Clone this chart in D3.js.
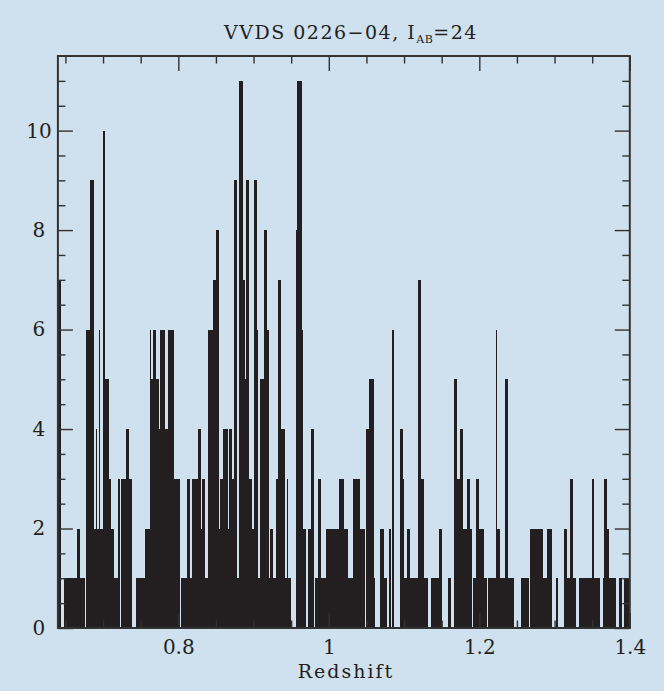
<!DOCTYPE html>
<html>
<head>
<meta charset="utf-8">
<script src="https://cdn.jsdelivr.net/npm/d3@7"></script>
<style>
  html, body { margin: 0; padding: 0; background: #cfe0ee; }
  svg { display: block; }
  text { font-family: "DejaVu Serif", "Liberation Serif", serif; fill: #231f20; }
</style>
</head>
<body>
<script>
// Redshift histogram of the VVDS 0226-04 field (I_AB = 24)
const zStart = 0.64;      // lower edge of the first bin
const binWidth = 0.002;   // bin width in redshift

// galaxies per bin, one row per 0.02 in redshift
const counts = [
  7,7,0,0,1,1,1,1,1,1,   // 0.64
  1,1,1,2,2,1,1,1,0,6,   // 0.66
  6,9,9,9,2,4,2,6,2,2,   // 0.68
  10,5,5,5,3,2,2,1,1,1,  // 0.70
  3,0,3,3,3,4,4,3,3,0,   // 0.72
  0,0,1,1,1,1,1,1,2,2,   // 0.74
  2,6,5,6,6,5,5,4,6,6,   // 0.76
  6,4,4,6,6,6,6,3,3,3,   // 0.78
  3,0,1,1,1,1,3,3,1,3,   // 0.80
  3,3,3,4,4,2,3,3,1,1,   // 0.82
  6,6,6,7,7,8,8,2,3,3,   // 0.84
  4,4,4,2,4,4,3,9,9,1,   // 0.86
  11,11,11,7,5,9,9,3,3,2,// 0.88
  9,9,6,1,5,5,5,8,8,6,   // 0.90
  1,2,2,1,1,3,7,7,4,4,   // 0.92
  4,1,3,1,1,0,0,0,8,11,  // 0.94
  11,11,6,2,2,0,2,2,4,4, // 0.96
  0,1,1,3,3,1,1,1,2,2,   // 0.98
  2,2,2,2,2,2,2,3,3,3,   // 1.00
  2,2,2,1,1,1,3,3,3,3,   // 1.02
  3,2,2,2,0,4,4,5,5,5,   // 1.04
  1,0,0,0,2,2,2,1,1,0,   // 1.06
  2,0,6,0,0,0,0,4,4,3,   // 1.08
  1,1,2,2,1,1,1,1,1,7,   // 1.10
  7,3,3,1,1,1,0,0,1,1,   // 1.12
  1,1,1,2,2,0,0,0,0,1,   // 1.14
  1,0,0,5,5,3,3,4,4,2,   // 1.16
  2,2,3,3,2,0,1,1,3,3,   // 1.18
  2,2,2,1,1,0,1,1,1,1,   // 1.20
  1,6,2,2,1,1,1,5,5,1,   // 1.22
  1,1,1,0,0,0,0,0,1,1,   // 1.24
  1,1,1,0,2,2,2,2,2,2,   // 1.26
  2,2,1,1,1,2,2,2,0,0,   // 1.28
  0,1,0,0,0,0,2,2,1,1,   // 1.30
  3,3,1,1,0,0,1,1,1,1,   // 1.32
  1,1,1,1,1,3,1,1,1,1,   // 1.34
  0,0,1,3,3,2,1,1,1,1,   // 1.36
  1,0,0,1,1,0,1,1,1,1    // 1.38
];

const xDomain = [0.64, 1.4];
const yDomain = [0, 11.5];
const xMajorTicks = [0.8, 1.0, 1.2, 1.4];
const xMinorTicks = [0.65, 0.7, 0.75, 0.85, 0.9, 0.95, 1.05, 1.1, 1.15, 1.25, 1.3, 1.35];
const yMajorTicks = [0, 2, 4, 6, 8, 10];
const yMinorTicks = [0.5, 1, 1.5, 2.5, 3, 3.5, 4.5, 5, 5.5, 6.5, 7, 7.5, 8.5, 9, 9.5, 10.5, 11];
const titleMain = "VVDS 0226\u221204, I";
const titleSub = "AB";
const titleTail = "=24";
const xTitle = "Redshift";

const W = 664, H = 691;
const plot = { left: 57.9, right: 629.8, top: 56, bottom: 628 };
const ink = "#231f20";
const frameInk = "#333233";

const svg = d3.select("body").append("svg")
  .attr("width", W).attr("height", H);

svg.append("rect").attr("width", W).attr("height", H).attr("fill", "#cfe0ee");

const x = d3.scaleLinear().domain(xDomain).range([plot.left, plot.right]);
const y = d3.scaleLinear().domain(yDomain).range([plot.bottom, plot.top]);

const bins = counts.map((c, i) => ({ z0: zStart + i * binWidth, z1: zStart + (i + 1) * binWidth, n: c }));

// histogram bars
svg.append("g")
  .attr("shape-rendering", "crispEdges")
  .selectAll("rect")
  .data(bins.filter(b => b.n > 0))
  .join("rect")
  .attr("x", d => x(d.z0))
  .attr("width", d => x(d.z1) - x(d.z0))
  .attr("y", d => y(d.n))
  .attr("height", d => y(0) - y(d.n))
  .attr("fill", ink);

// ticks on all four sides, pointing inwards
function styleAxis(g) {
  g.select(".domain").remove();
  g.selectAll(".tick line").attr("stroke", frameInk).attr("stroke-width", 1.4);
}
const major = 15, minor = 7.5;

svg.append("g").attr("transform", `translate(0,${plot.bottom})`)
  .call(d3.axisBottom(x).tickValues(xMinorTicks).tickSize(-minor).tickFormat(""))
  .call(styleAxis);
const xAxis = svg.append("g").attr("transform", `translate(0,${plot.bottom})`)
  .call(d3.axisBottom(x).tickValues(xMajorTicks).tickSize(-major).tickPadding(12)
    .tickFormat(d => d3.format("")(+d.toFixed(1))))
  .call(styleAxis);
xAxis.selectAll("text").attr("font-size", 20).attr("fill", ink)
  .attr("font-family", "DejaVu Serif, serif");

svg.append("g").attr("transform", `translate(0,${plot.top})`)
  .call(d3.axisTop(x).tickValues(xMinorTicks).tickSize(-minor).tickFormat(""))
  .call(styleAxis);
svg.append("g").attr("transform", `translate(0,${plot.top})`)
  .call(d3.axisTop(x).tickValues(xMajorTicks).tickSize(-major).tickFormat(""))
  .call(styleAxis);

svg.append("g").attr("transform", `translate(${plot.left},0)`)
  .call(d3.axisLeft(y).tickValues(yMinorTicks).tickSize(-minor).tickFormat(""))
  .call(styleAxis);
const yAxis = svg.append("g").attr("transform", `translate(${plot.left},0)`)
  .call(d3.axisLeft(y).tickValues(yMajorTicks).tickSize(-major).tickPadding(19))
  .call(styleAxis);
yAxis.selectAll("text").attr("font-size", 20).attr("fill", ink)
  .attr("text-anchor", "middle").attr("font-family", "DejaVu Serif, serif");

svg.append("g").attr("transform", `translate(${plot.right},0)`)
  .call(d3.axisRight(y).tickValues(yMinorTicks).tickSize(-minor).tickFormat(""))
  .call(styleAxis);
svg.append("g").attr("transform", `translate(${plot.right},0)`)
  .call(d3.axisRight(y).tickValues(yMajorTicks).tickSize(-major).tickFormat(""))
  .call(styleAxis);

// frame
svg.append("rect")
  .attr("x", plot.left).attr("y", plot.top)
  .attr("width", plot.right - plot.left).attr("height", plot.bottom - plot.top)
  .attr("fill", "none").attr("stroke", frameInk).attr("stroke-width", 2);

// title with subscript
const t = svg.append("text")
  .attr("x", 351).attr("y", 39)
  .attr("text-anchor", "middle")
  .attr("font-size", 19)
  .attr("letter-spacing", 1.5);
t.append("tspan").text(titleMain);
t.append("tspan").attr("font-size", 11).attr("dy", 4).attr("letter-spacing", 0.5).text(titleSub);
t.append("tspan").attr("dy", -4).text(titleTail);

// x axis title
svg.append("text")
  .attr("x", 346).attr("y", 678)
  .attr("text-anchor", "middle")
  .attr("font-size", 19)
  .attr("letter-spacing", 2)
  .text(xTitle);
</script>
</body>
</html>
